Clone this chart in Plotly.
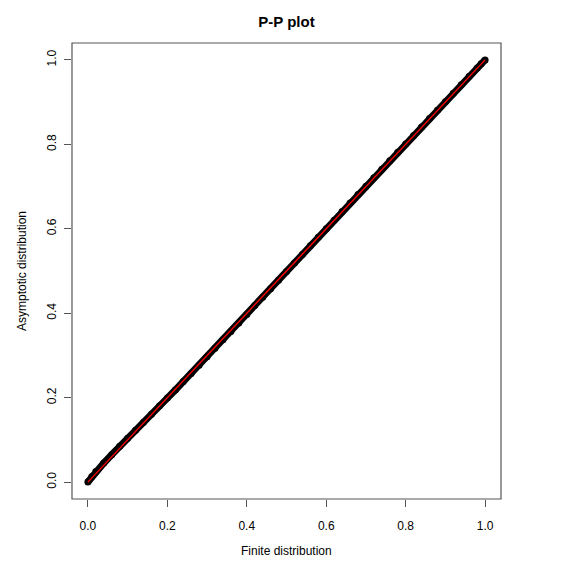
import plotly.graph_objects as go

# Data (finite vs asymptotic distribution)
finite = [0.00, 0.01, 0.02, 0.04, 0.06, 0.08, 0.10, 0.12, 0.14, 0.16, 0.18, 0.20,
          0.22, 0.24, 0.26, 0.28, 0.30, 0.32, 0.34, 0.36, 0.38, 0.40, 0.42, 0.44,
          0.46, 0.48, 0.50, 0.52, 0.54, 0.56, 0.58, 0.60, 0.62, 0.64, 0.66, 0.68,
          0.70, 0.72, 0.74, 0.76, 0.78, 0.80, 0.82, 0.84, 0.86, 0.88, 0.90, 0.92,
          0.94, 0.96, 0.98, 0.99, 1.00]
asymptotic = [0.000, 0.013, 0.025, 0.045, 0.065, 0.085, 0.104, 0.123, 0.142, 0.161, 0.180, 0.199,
              0.218, 0.238, 0.257, 0.277, 0.297, 0.317, 0.337, 0.357, 0.377, 0.397, 0.418, 0.438,
              0.458, 0.478, 0.499, 0.519, 0.539, 0.560, 0.580, 0.600, 0.620, 0.641, 0.661, 0.681,
              0.701, 0.721, 0.741, 0.761, 0.781, 0.801, 0.821, 0.841, 0.861, 0.881, 0.901, 0.921,
              0.941, 0.961, 0.981, 0.991, 1.000]
ref_x = [0.0, 1.0]
ref_y = [0.0, 1.0]
tick_vals = [0.0, 0.2, 0.4, 0.6, 0.8, 1.0]
tick_text = ["0.0", "0.2", "0.4", "0.6", "0.8", "1.0"]

fig = go.Figure()
fig.add_trace(go.Scatter(x=finite, y=asymptotic, mode="lines",
                         line=dict(color="black", width=7), hoverinfo="skip"))
fig.add_trace(go.Scatter(x=finite, y=asymptotic, mode="markers",
                         marker=dict(symbol="circle", size=7, color="black",
                                     line=dict(width=0))))
fig.add_trace(go.Scatter(x=ref_x, y=ref_y, mode="lines",
                         line=dict(color="red", width=1.4)))

font = "Liberation Sans, Arial, Helvetica, sans-serif"
axis_common = dict(range=[-0.04, 1.04], tickvals=tick_vals, ticktext=tick_text,
                   ticks="outside", ticklen=7, tickwidth=1, tickcolor="#555",
                   showgrid=False, zeroline=False, showline=False,
                   tickfont=dict(family=font, size=12, color="black"))

fig.update_layout(
    width=565, height=564,
    margin=dict(l=64, r=72, t=35, b=73),
    paper_bgcolor="white", plot_bgcolor="white",
    showlegend=False,
    font=dict(family=font, color="black"),
    title=dict(text="<b>P-P plot</b>", x=(64 + 429 / 2) / 565, xanchor="center",
               y=1 - 14 / 564, yref="container", yanchor="middle",
               font=dict(family=font, size=15, color="black")),
    xaxis=dict(**axis_common, ticklabelstandoff=9),
    yaxis=dict(**axis_common, tickangle=-90, ticklabelstandoff=3),
    shapes=[dict(type="rect", xref="paper", yref="paper", x0=0, y0=0, x1=1, y1=1,
                 line=dict(color="#555", width=1.2))],
    annotations=[
        dict(text="Finite distribution", xref="paper", yref="paper", x=0.5,
             y=-52 / 456, xanchor="center", yanchor="middle", showarrow=False,
             font=dict(family=font, size=12, color="black")),
        dict(text="Asymptotic distribution", xref="paper", yref="paper",
             x=-50 / 429, y=0.5, xanchor="center", yanchor="middle", textangle=-90,
             showarrow=False, font=dict(family=font, size=12, color="black")),
    ],
)

fig.write_html("out.html")
